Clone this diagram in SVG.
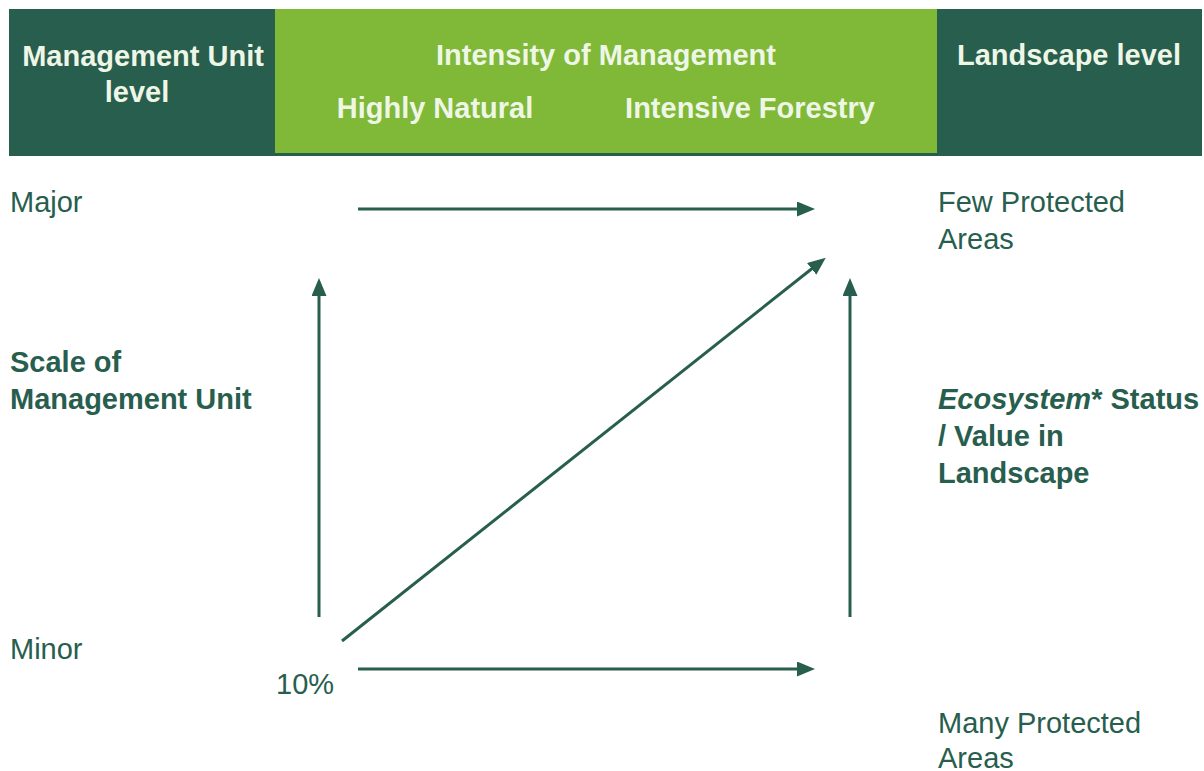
<svg xmlns="http://www.w3.org/2000/svg" width="1204" height="771" viewBox="0 0 1204 771">
<style>
.hd{font-family:"Liberation Sans",Arial,sans-serif;font-size:29px;font-weight:bold;fill:#EEF6E6}
.t{font-family:"Liberation Sans",Arial,sans-serif;font-size:29px;fill:#275E4E}
.b{font-weight:bold}
.ln{stroke:#275E4E;stroke-width:3;fill:none;marker-end:url(#ah)}
</style>
<defs>
<marker id="ah" markerWidth="6" markerHeight="5" refX="1" refY="2.5" orient="auto" markerUnits="strokeWidth">
<path d="M0,0 L6,2.5 L0,5 Z" fill="#275E4E"/>
</marker>
</defs>
<rect width="1204" height="771" fill="#fff"/>
<g id="header-left">
<rect x="9" y="9" width="267" height="147" fill="#275E4E"/>
<text class="hd" x="143" y="66" text-anchor="middle">Management Unit</text>
<text class="hd" x="137" y="102" text-anchor="middle">level</text>
</g>
<g id="header-mid">
<rect x="275" y="9" width="663" height="147" fill="#275E4E"/>
<rect x="275" y="9" width="662" height="144" fill="#80B838"/>
<text class="hd" x="606" y="65" text-anchor="middle">Intensity of Management</text>
<text class="hd" x="435" y="118" text-anchor="middle">Highly Natural</text>
<text class="hd" x="750" y="118" text-anchor="middle">Intensive Forestry</text>
</g>
<g id="header-right">
<rect x="937" y="9" width="265" height="147" fill="#275E4E"/>
<text class="hd" x="1069" y="65" text-anchor="middle">Landscape level</text>
</g>
<g id="labels-left">
<text class="t" x="10" y="212">Major</text>
<text class="t b" x="10" y="372">Scale of</text>
<text class="t b" x="10" y="409">Management Unit</text>
<text class="t" x="10" y="659">Minor</text>
<text class="t" x="276" y="694">10%</text>
</g>
<g id="labels-right">
<text class="t" x="938" y="212">Few Protected</text>
<text class="t" x="938" y="249">Areas</text>
<text class="t b" x="938" y="409"><tspan font-style="italic">Ecosystem</tspan>* Status</text>
<text class="t b" x="938" y="446">/ Value in</text>
<text class="t b" x="938" y="483">Landscape</text>
<text class="t" x="938" y="733">Many Protected</text>
<text class="t" x="938" y="768">Areas</text>
</g>
<g id="connectors">
<line class="ln" x1="358" y1="209" x2="800" y2="209"/>
<line class="ln" x1="358" y1="669" x2="800" y2="669"/>
<line class="ln" x1="319" y1="617" x2="319" y2="293"/>
<line class="ln" x1="850" y1="617" x2="850" y2="293"/>
<line class="ln" x1="342" y1="641" x2="814" y2="267"/>
</g>
</svg>
